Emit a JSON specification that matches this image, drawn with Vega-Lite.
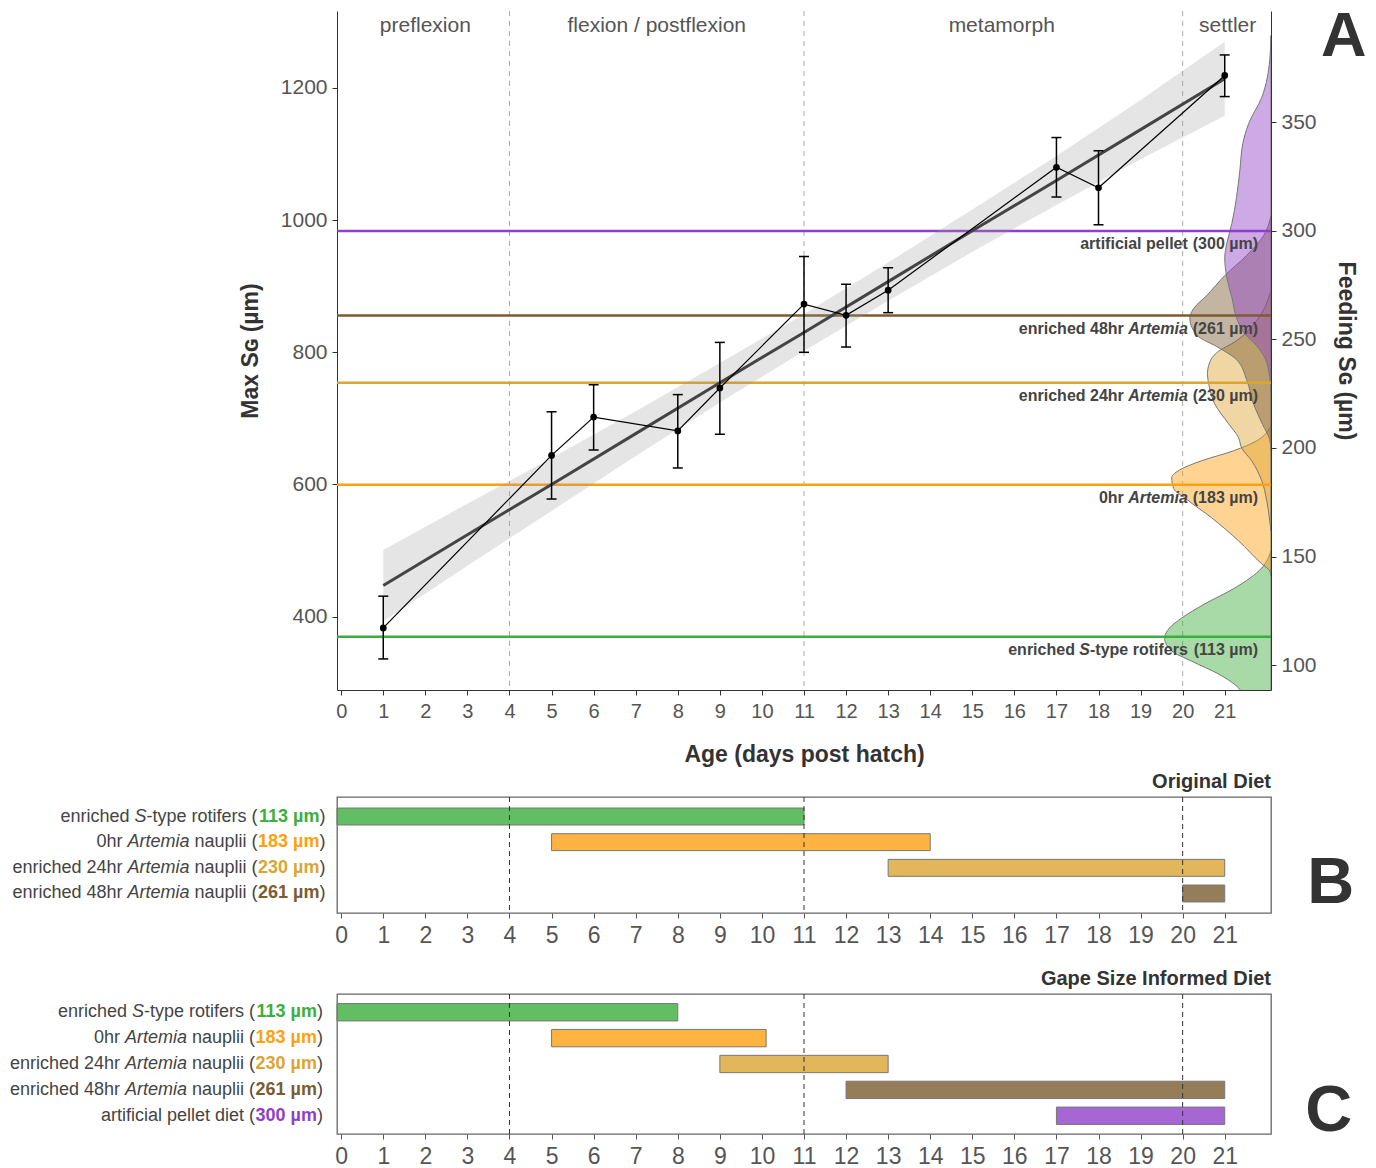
{
 "$schema": "https://vega.github.io/schema/vega-lite/v6.json",
 "padding": {"left": 9, "top": 6, "right": 0, "bottom": 0},
 "background": "white",
 "config": {
  "font": "Liberation Sans",
  "view": {"stroke": null},
  "axis": {"grid": false, "labelColor": "#555555", "titleColor": "#333333", "titleFontWeight": "bold", "domainColor": "#333333", "tickColor": "#333333"}
 },
 "datasets": {
  "pts": [
   {"day":1,"val":383,"lo":336,"hi":431},
   {"day":5,"val":644,"lo":578,"hi":710},
   {"day":6,"val":702,"lo":652,"hi":751},
   {"day":8,"val":681,"lo":625,"hi":736},
   {"day":9,"val":746,"lo":676,"hi":815},
   {"day":11,"val":873,"lo":800,"hi":945},
   {"day":12,"val":856,"lo":808,"hi":903},
   {"day":13,"val":894,"lo":860,"hi":928},
   {"day":17,"val":1080,"lo":1035,"hi":1125},
   {"day":18,"val":1049,"lo":993,"hi":1105},
   {"day":21,"val":1219,"lo":1187,"hi":1250}
  ],
  "fit": [
   {"day":1,"c":447,"lo":393,"hi":501},
   {"day":3,"c":524,"lo":477,"hi":571},
   {"day":5,"c":600,"lo":560,"hi":640},
   {"day":7,"c":677,"lo":643,"hi":711},
   {"day":9,"c":754,"lo":724,"hi":784},
   {"day":11,"c":830,"lo":802,"hi":858},
   {"day":13,"c":907,"lo":878,"hi":936},
   {"day":15,"c":984,"lo":952,"hi":1016},
   {"day":17,"c":1060,"lo":1023,"hi":1097},
   {"day":19,"c":1137,"lo":1092,"hi":1182},
   {"day":21,"c":1214,"lo":1158,"hi":1270}
  ],
  "dens": [
   {"diet":"rot","x":22.1,"v":152.6},{"diet":"rot","x":21.88,"v":144.7},{"diet":"rot","x":21.24,"v":135.5},{"diet":"rot","x":20.52,"v":128.1},{"diet":"rot","x":19.98,"v":121.7},{"diet":"rot","x":19.69,"v":117.1},{"diet":"rot","x":19.57,"v":112.5},{"diet":"rot","x":19.74,"v":106.5},{"diet":"rot","x":20.21,"v":101.8},{"diet":"rot","x":20.86,"v":95.8},{"diet":"rot","x":21.33,"v":89.4},{"diet":"rot","x":21.45,"v":86},
   {"diet":"a0","x":22.1,"v":210.2},{"diet":"a0","x":21.76,"v":203.3},{"diet":"a0","x":21.21,"v":198.7},{"diet":"a0","x":20.45,"v":194.1},{"diet":"a0","x":19.98,"v":190.4},{"diet":"a0","x":19.74,"v":186.3},{"diet":"a0","x":19.79,"v":181.2},{"diet":"a0","x":20.05,"v":177.0},{"diet":"a0","x":20.69,"v":167.8},{"diet":"a0","x":21.33,"v":157.2},{"diet":"a0","x":21.88,"v":146.6},{"diet":"a0","x":22.07,"v":143.4},{"diet":"a0","x":22.1,"v":141.1},
   {"diet":"a24","x":22.1,"v":272.5},{"diet":"a24","x":21.76,"v":258.7},{"diet":"a24","x":21.28,"v":249.4},{"diet":"a24","x":20.81,"v":243.9},{"diet":"a24","x":20.64,"v":239.3},{"diet":"a24","x":20.59,"v":234.2},{"diet":"a24","x":20.64,"v":227.8},{"diet":"a24","x":20.76,"v":220.4},{"diet":"a24","x":21.09,"v":211.2},{"diet":"a24","x":21.33,"v":204.7},{"diet":"a24","x":21.4,"v":200.1},{"diet":"a24","x":21.64,"v":194.1},{"diet":"a24","x":21.88,"v":184.9},{"diet":"a24","x":22.0,"v":175.6},{"diet":"a24","x":22.07,"v":166.4},{"diet":"a24","x":22.1,"v":161.8},
   {"diet":"a48","x":22.1,"v":307},{"diet":"a48","x":21.93,"v":298},{"diet":"a48","x":21.52,"v":288.7},{"diet":"a48","x":21.0,"v":279.4},{"diet":"a48","x":20.57,"v":270.2},{"diet":"a48","x":20.26,"v":264.2},{"diet":"a48","x":20.17,"v":259.6},{"diet":"a48","x":20.38,"v":251.3},{"diet":"a48","x":20.81,"v":246.7},{"diet":"a48","x":21.28,"v":240.7},{"diet":"a48","x":21.52,"v":231.5},{"diet":"a48","x":21.69,"v":220},{"diet":"a48","x":21.9,"v":210.8},{"diet":"a48","x":22.07,"v":203.8},{"diet":"a48","x":22.1,"v":199},
   {"diet":"pel","x":22.1,"v":390},{"diet":"pel","x":22.07,"v":378.6},{"diet":"pel","x":21.88,"v":361.5},{"diet":"pel","x":21.57,"v":349.5},{"diet":"pel","x":21.43,"v":340.3},{"diet":"pel","x":21.36,"v":327.9},{"diet":"pel","x":21.28,"v":315.4},{"diet":"pel","x":21.17,"v":303.4},{"diet":"pel","x":21.05,"v":294.2},{"diet":"pel","x":21.0,"v":287.7},{"diet":"pel","x":21.05,"v":278.5},{"diet":"pel","x":21.17,"v":269.3},{"diet":"pel","x":21.28,"v":260.1},{"diet":"pel","x":21.47,"v":252.7},{"diet":"pel","x":21.76,"v":247.1},{"diet":"pel","x":21.95,"v":241.6},{"diet":"pel","x":22.07,"v":232.4},{"diet":"pel","x":22.1,"v":226.4}
  ],
  "lines": [
   {"diet":"pel","v":300,"num":"(300 µm)","mid":"artificial pellet","kind":"pel"},
   {"diet":"a48","v":261,"num":"(261 µm)","mid":"Artemia","pre":"enriched 48hr","kind":"art"},
   {"diet":"a24","v":230,"num":"(230 µm)","mid":"Artemia","pre":"enriched 24hr","kind":"art"},
   {"diet":"a0","v":183,"num":"(183 µm)","mid":"Artemia","pre":"0hr","kind":"art"},
   {"diet":"rot","v":113,"num":"(113 µm)","mid":"-type rotifers","ital":"S","pre":"enriched","kind":"rot"}
  ],
  "stages": [
   {"stage":"preflexion","day":2},
   {"stage":"flexion / postflexion","day":7.5},
   {"stage":"metamorph","day":15.7},
   {"stage":"settler","day":21.07}
  ],
  "bounds": [{"day":4},{"day":11},{"day":20}],
  "orig": [
   {"item":"rot","start":-0.1,"end":11,"num":"113 µm","suf":"-type rotifers (","ital":"S","pre":"enriched","kind":"rot"},
   {"item":"a0","start":5,"end":14,"num":"183 µm","suf":"nauplii (","ital":"Artemia","pre":"0hr","kind":"art"},
   {"item":"a24","start":13,"end":21,"num":"230 µm","suf":"nauplii (","ital":"Artemia","pre":"enriched 24hr","kind":"art"},
   {"item":"a48","start":20,"end":21,"num":"261 µm","suf":"nauplii (","ital":"Artemia","pre":"enriched 48hr","kind":"art"}
  ],
  "gape": [
   {"item":"rot","start":-0.1,"end":8,"num":"113 µm","suf":"-type rotifers (","ital":"S","pre":"enriched","kind":"rot"},
   {"item":"a0","start":5,"end":10.1,"num":"183 µm","suf":"nauplii (","ital":"Artemia","pre":"0hr","kind":"art"},
   {"item":"a24","start":9,"end":13,"num":"230 µm","suf":"nauplii (","ital":"Artemia","pre":"enriched 24hr","kind":"art"},
   {"item":"a48","start":12,"end":21,"num":"261 µm","suf":"nauplii (","ital":"Artemia","pre":"enriched 48hr","kind":"art"},
   {"item":"pel","start":17,"end":21,"num":"300 µm","suf":"artificial pellet diet (","kind":"pel"}
  ]
 },
 "spacing": 4,
 "vconcat": [
  {
   "width": 934,
   "height": 679,
   "layer": [
    {
     "layer": [
      {
       "data": {"name": "bounds"},
       "mark": {"type": "rule", "color": "#aaaaaa", "strokeDash": [5, 5], "strokeWidth": 1},
       "encoding": {
        "x": {"field": "day", "type": "quantitative", "scale": {"domain": [-0.1, 22.1], "nice": false, "zero": false}, "axis": {"values": [0,1,2,3,4,5,6,7,8,9,10,11,12,13,14,15,16,17,18,19,20,21], "title": "Age (days post hatch)", "labelFontSize": 20, "titleFontSize": 23, "tickSize": 5, "labelPadding": 6, "titlePadding": 22, "labelFlush": false, "labelOverlap": false}}
       }
      },
      {
       "data": {"name": "dens"},
       "mark": {"type": "area", "orient": "horizontal", "interpolate": "monotone", "fillOpacity": 0.45, "stroke": "#777777", "strokeWidth": 1, "clip": true},
       "encoding": {
        "y": {"field": "v", "type": "quantitative", "scale": {"domain": [88.5, 401.3], "nice": false, "zero": false}, "axis": {"orient": "right", "values": [100,150,200,250,300,350], "title": "Feeding Sɢ (µm)", "labelFontSize": 21, "titleFontSize": 23, "tickSize": 5, "labelPadding": 5, "titlePadding": 17}},
        "x": {"field": "x", "type": "quantitative", "stack": null, "scale": {"domain": [-0.1, 22.1], "nice": false, "zero": false}, "axis": {"values": [0,1,2,3,4,5,6,7,8,9,10,11,12,13,14,15,16,17,18,19,20,21], "title": "Age (days post hatch)", "labelFontSize": 20, "titleFontSize": 23, "tickSize": 5, "labelPadding": 6, "titlePadding": 22, "labelFlush": false, "labelOverlap": false}},
        "x2": {"datum": 22.1},
        "color": {"field": "diet", "type": "nominal", "scale": {"domain": ["rot","a0","a24","a48","pel"], "range": ["#3cae3c","#ffa010","#dba532","#7a5c30","#9040c8"]}, "legend": null}
       }
      },
      {
       "data": {"name": "lines"},
       "mark": {"type": "rule", "strokeWidth": 2.5},
       "encoding": {
        "y": {"field": "v", "type": "quantitative", "scale": {"domain": [88.5, 401.3], "nice": false, "zero": false}, "axis": {"orient": "right", "values": [100,150,200,250,300,350], "title": "Feeding Sɢ (µm)", "labelFontSize": 21, "titleFontSize": 23, "tickSize": 5, "labelPadding": 5, "titlePadding": 17}},
        "color": {"field": "diet", "type": "nominal", "scale": {"domain": ["rot","a0","a24","a48","pel"], "range": ["#3cae3c","#ffa010","#dba532","#7a5c30","#9040c8"]}, "legend": null}
       }
      },
      {
       "data": {"name": "lines"},
       "mark": {"type": "text", "align": "right", "baseline": "middle", "dx": -13, "dy": 13, "fontSize": 16, "fontWeight": "bold", "color": "#444444"},
       "encoding": {
        "x": {"datum": 22.1, "type": "quantitative"},
        "y": {"field": "v", "type": "quantitative"},
        "text": {"field": "num"}
       }
      },
      {
       "data": {"name": "lines"},
       "transform": [{"filter": "datum.kind == 'art'"}],
       "mark": {"type": "text", "align": "right", "baseline": "middle", "dx": -83.2, "dy": 13, "fontSize": 16, "fontWeight": "bold", "fontStyle": "italic", "color": "#444444"},
       "encoding": {
        "x": {"datum": 22.1, "type": "quantitative"},
        "y": {"field": "v", "type": "quantitative"},
        "text": {"field": "mid"}
       }
      },
      {
       "data": {"name": "lines"},
       "transform": [{"filter": "datum.kind != 'art'"}],
       "mark": {"type": "text", "align": "right", "baseline": "middle", "dx": -83.2, "dy": 13, "fontSize": 16, "fontWeight": "bold", "color": "#444444"},
       "encoding": {
        "x": {"datum": 22.1, "type": "quantitative"},
        "y": {"field": "v", "type": "quantitative"},
        "text": {"field": "mid"}
       }
      },
      {
       "data": {"name": "lines"},
       "transform": [{"filter": "datum.kind == 'art'"}],
       "mark": {"type": "text", "align": "right", "baseline": "middle", "dx": -147.2, "dy": 13, "fontSize": 16, "fontWeight": "bold", "color": "#444444"},
       "encoding": {
        "x": {"datum": 22.1, "type": "quantitative"},
        "y": {"field": "v", "type": "quantitative"},
        "text": {"field": "pre"}
       }
      },
      {
       "data": {"name": "lines"},
       "transform": [{"filter": "datum.kind == 'rot'"}],
       "mark": {"type": "text", "align": "right", "baseline": "middle", "dx": -181, "dy": 13, "fontSize": 16, "fontWeight": "bold", "fontStyle": "italic", "color": "#444444"},
       "encoding": {
        "x": {"datum": 22.1, "type": "quantitative"},
        "y": {"field": "v", "type": "quantitative"},
        "text": {"field": "ital"}
       }
      },
      {
       "data": {"name": "lines"},
       "transform": [{"filter": "datum.kind == 'rot'"}],
       "mark": {"type": "text", "align": "right", "baseline": "middle", "dx": -196.1, "dy": 13, "fontSize": 16, "fontWeight": "bold", "color": "#444444"},
       "encoding": {
        "x": {"datum": 22.1, "type": "quantitative"},
        "y": {"field": "v", "type": "quantitative"},
        "text": {"field": "pre"}
       }
      }
     ]
    },
    {
     "layer": [
      {
       "data": {"name": "fit"},
       "mark": {"type": "area", "color": "#999999", "opacity": 0.25},
       "encoding": {
        "x": {"field": "day", "type": "quantitative", "scale": {"domain": [-0.1, 22.1], "nice": false, "zero": false}, "axis": {"values": [0,1,2,3,4,5,6,7,8,9,10,11,12,13,14,15,16,17,18,19,20,21], "title": "Age (days post hatch)", "labelFontSize": 20, "titleFontSize": 23, "tickSize": 5, "labelPadding": 6, "titlePadding": 22, "labelFlush": false, "labelOverlap": false}},
        "y": {"field": "lo", "type": "quantitative", "stack": null, "scale": {"domain": [289, 1316.5], "nice": false, "zero": false}, "axis": {"orient": "left", "values": [400,600,800,1000,1200], "format": "d", "title": "Max Sɢ (µm)", "labelFontSize": 21, "titleFontSize": 23, "tickSize": 5, "labelPadding": 5, "titlePadding": 18}},
        "y2": {"field": "hi"}
       }
      },
      {
       "data": {"name": "fit"},
       "mark": {"type": "line", "color": "#444444", "strokeWidth": 3},
       "encoding": {
        "x": {"field": "day", "type": "quantitative"},
        "y": {"field": "c", "type": "quantitative"}
       }
      },
      {
       "data": {"name": "pts"},
       "mark": {"type": "line", "color": "#000000", "strokeWidth": 1.2},
       "encoding": {
        "x": {"field": "day", "type": "quantitative"},
        "y": {"field": "val", "type": "quantitative"}
       }
      },
      {
       "data": {"name": "pts"},
       "mark": {"type": "rule", "color": "#000000", "strokeWidth": 1.5},
       "encoding": {
        "x": {"field": "day", "type": "quantitative"},
        "y": {"field": "lo", "type": "quantitative"},
        "y2": {"field": "hi"}
       }
      },
      {
       "data": {"name": "pts"},
       "mark": {"type": "tick", "orient": "horizontal", "size": 10, "thickness": 1.5, "color": "#000000", "opacity": 1},
       "encoding": {
        "x": {"field": "day", "type": "quantitative"},
        "y": {"field": "lo", "type": "quantitative"}
       }
      },
      {
       "data": {"name": "pts"},
       "mark": {"type": "tick", "orient": "horizontal", "size": 10, "thickness": 1.5, "color": "#000000", "opacity": 1},
       "encoding": {
        "x": {"field": "day", "type": "quantitative"},
        "y": {"field": "hi", "type": "quantitative"}
       }
      },
      {
       "data": {"name": "pts"},
       "mark": {"type": "circle", "size": 45, "color": "#000000", "opacity": 1},
       "encoding": {
        "x": {"field": "day", "type": "quantitative"},
        "y": {"field": "val", "type": "quantitative"}
       }
      },
      {
       "data": {"name": "stages"},
       "mark": {"type": "text", "fontSize": 21, "color": "#555555", "baseline": "middle"},
       "encoding": {
        "x": {"field": "day", "type": "quantitative"},
        "y": {"datum": 1293.8, "type": "quantitative"},
        "text": {"field": "stage"}
       }
      },
      {
       "data": {"values": [{"letter": "A"}]},
       "mark": {"type": "text", "fontSize": 63, "fontWeight": "bold", "color": "#333333", "baseline": "middle"},
       "encoding": {
        "x": {"datum": 23.83, "type": "quantitative"},
        "y": {"datum": 1277, "type": "quantitative"},
        "text": {"field": "letter"}
       }
      }
     ]
    }
   ],
   "resolve": {"scale": {"y": "independent"}, "axis": {"y": "independent"}}
  },
  {
   "spacing": 19,
   "vconcat": [
    {
     "width": 934,
     "height": 116,
     "view": {"stroke": "#666666", "strokeWidth": 1.3},
     "title": {"text": "Original Diet", "anchor": "end", "frame": "group", "fontSize": 20, "fontWeight": "bold", "color": "#333333", "offset": 5},
     "data": {"name": "orig"},
     "encoding": {
      "y": {"field": "item", "type": "nominal", "sort": null, "scale": {"domain": ["rot","a0","a24","a48"], "paddingInner": 0.34, "paddingOuter": 0.43}, "axis": null}
     },
     "layer": [
      {
       "mark": {"type": "bar", "stroke": "#777777", "strokeWidth": 1, "fillOpacity": 0.8},
       "encoding": {
        "x": {"field": "start", "type": "quantitative", "scale": {"domain": [-0.1, 22.1], "nice": false, "zero": false}, "axis": {"values": [0,1,2,3,4,5,6,7,8,9,10,11,12,13,14,15,16,17,18,19,20,21], "title": null, "labelFontSize": 23, "tickSize": 5, "labelPadding": 6, "labelFlush": false, "labelOverlap": false, "domain": false, "tickColor": "#555555"}},
        "x2": {"field": "end"},
        "color": {"field": "item", "type": "nominal", "scale": {"domain": ["rot","a0","a24","a48","pel"], "range": ["#3cae3c","#ffa010","#dba532","#7a5c30","#9040c8"]}, "legend": null}
       }
      },
      {
       "data": {"name": "bounds"},
       "mark": {"type": "rule", "color": "#333333", "strokeDash": [5, 4], "strokeWidth": 1},
       "encoding": {"x": {"field": "day", "type": "quantitative"}, "y": null}
      },
      {
       "mark": {"type": "text", "align": "right", "baseline": "middle", "dx": -11.5, "fontSize": 18, "color": "#444444"},
       "encoding": {"x": {"datum": -0.1, "type": "quantitative"}, "text": {"value": ")"}}
      },
      {
       "mark": {"type": "text", "align": "right", "baseline": "middle", "dx": -17.5, "fontSize": 18, "fontWeight": "bold"},
       "encoding": {"x": {"datum": -0.1, "type": "quantitative"}, "text": {"field": "num"}, "color": {"field": "item", "type": "nominal", "scale": {"domain": ["rot","a0","a24","a48","pel"], "range": ["#3cae3c","#ffa010","#dba532","#7a5c30","#9040c8"]}, "legend": null}}
      },
      {
       "mark": {"type": "text", "align": "right", "baseline": "middle", "dx": -79.5, "fontSize": 18, "color": "#444444"},
       "encoding": {"x": {"datum": -0.1, "type": "quantitative"}, "text": {"field": "suf"}}
      },
      {
       "transform": [{"filter": "datum.kind == 'art'"}],
       "mark": {"type": "text", "align": "right", "baseline": "middle", "dx": -147.5, "fontSize": 18, "fontStyle": "italic", "color": "#444444"},
       "encoding": {"x": {"datum": -0.1, "type": "quantitative"}, "text": {"field": "ital"}}
      },
      {
       "transform": [{"filter": "datum.kind == 'art'"}],
       "mark": {"type": "text", "align": "right", "baseline": "middle", "dx": -214.5, "fontSize": 18, "color": "#444444"},
       "encoding": {"x": {"datum": -0.1, "type": "quantitative"}, "text": {"field": "pre"}}
      },
      {
       "transform": [{"filter": "datum.kind == 'rot'"}],
       "mark": {"type": "text", "align": "right", "baseline": "middle", "dx": -190.5, "fontSize": 18, "fontStyle": "italic", "color": "#444444"},
       "encoding": {"x": {"datum": -0.1, "type": "quantitative"}, "text": {"field": "ital"}}
      },
      {
       "transform": [{"filter": "datum.kind == 'rot'"}],
       "mark": {"type": "text", "align": "right", "baseline": "middle", "dx": -207.5, "fontSize": 18, "color": "#444444"},
       "encoding": {"x": {"datum": -0.1, "type": "quantitative"}, "text": {"field": "pre"}}
      },
      {
       "transform": [{"filter": "datum.item == 'a48'"}],
       "mark": {"type": "text", "align": "center", "baseline": "middle", "dy": -10, "fontSize": 65, "fontWeight": "bold", "color": "#333333"},
       "encoding": {"x": {"datum": 23.52, "type": "quantitative"}, "text": {"value": "B"}}
      }
     ]
    },
    {
     "width": 934,
     "height": 140,
     "view": {"stroke": "#666666", "strokeWidth": 1.3},
     "title": {"text": "Gape Size Informed Diet", "anchor": "end", "frame": "group", "fontSize": 20, "fontWeight": "bold", "color": "#333333", "offset": 5},
     "data": {"name": "gape"},
     "encoding": {
      "y": {"field": "item", "type": "nominal", "sort": null, "scale": {"domain": ["rot","a0","a24","a48","pel"], "paddingInner": 0.33, "paddingOuter": 0.37}, "axis": null}
     },
     "layer": [
      {
       "mark": {"type": "bar", "stroke": "#777777", "strokeWidth": 1, "fillOpacity": 0.8},
       "encoding": {
        "x": {"field": "start", "type": "quantitative", "scale": {"domain": [-0.1, 22.1], "nice": false, "zero": false}, "axis": {"values": [0,1,2,3,4,5,6,7,8,9,10,11,12,13,14,15,16,17,18,19,20,21], "title": null, "labelFontSize": 23, "tickSize": 5, "labelPadding": 6, "labelFlush": false, "labelOverlap": false, "domain": false, "tickColor": "#555555"}},
        "x2": {"field": "end"},
        "color": {"field": "item", "type": "nominal", "scale": {"domain": ["rot","a0","a24","a48","pel"], "range": ["#3cae3c","#ffa010","#dba532","#7a5c30","#9040c8"]}, "legend": null}
       }
      },
      {
       "data": {"name": "bounds"},
       "mark": {"type": "rule", "color": "#333333", "strokeDash": [5, 4], "strokeWidth": 1},
       "encoding": {"x": {"field": "day", "type": "quantitative"}, "y": null}
      },
      {
       "mark": {"type": "text", "align": "right", "baseline": "middle", "dx": -14, "fontSize": 18, "color": "#444444"},
       "encoding": {"x": {"datum": -0.1, "type": "quantitative"}, "text": {"value": ")"}}
      },
      {
       "mark": {"type": "text", "align": "right", "baseline": "middle", "dx": -20, "fontSize": 18, "fontWeight": "bold"},
       "encoding": {"x": {"datum": -0.1, "type": "quantitative"}, "text": {"field": "num"}, "color": {"field": "item", "type": "nominal", "scale": {"domain": ["rot","a0","a24","a48","pel"], "range": ["#3cae3c","#ffa010","#dba532","#7a5c30","#9040c8"]}, "legend": null}}
      },
      {
       "mark": {"type": "text", "align": "right", "baseline": "middle", "dx": -82, "fontSize": 18, "color": "#444444"},
       "encoding": {"x": {"datum": -0.1, "type": "quantitative"}, "text": {"field": "suf"}}
      },
      {
       "transform": [{"filter": "datum.kind == 'art'"}],
       "mark": {"type": "text", "align": "right", "baseline": "middle", "dx": -150, "fontSize": 18, "fontStyle": "italic", "color": "#444444"},
       "encoding": {"x": {"datum": -0.1, "type": "quantitative"}, "text": {"field": "ital"}}
      },
      {
       "transform": [{"filter": "datum.kind == 'art'"}],
       "mark": {"type": "text", "align": "right", "baseline": "middle", "dx": -217, "fontSize": 18, "color": "#444444"},
       "encoding": {"x": {"datum": -0.1, "type": "quantitative"}, "text": {"field": "pre"}}
      },
      {
       "transform": [{"filter": "datum.kind == 'rot'"}],
       "mark": {"type": "text", "align": "right", "baseline": "middle", "dx": -193, "fontSize": 18, "fontStyle": "italic", "color": "#444444"},
       "encoding": {"x": {"datum": -0.1, "type": "quantitative"}, "text": {"field": "ital"}}
      },
      {
       "transform": [{"filter": "datum.kind == 'rot'"}],
       "mark": {"type": "text", "align": "right", "baseline": "middle", "dx": -210, "fontSize": 18, "color": "#444444"},
       "encoding": {"x": {"datum": -0.1, "type": "quantitative"}, "text": {"field": "pre"}}
      },
      {
       "transform": [{"filter": "datum.item == 'pel'"}],
       "mark": {"type": "text", "align": "center", "baseline": "middle", "dy": -5, "fontSize": 65, "fontWeight": "bold", "color": "#333333"},
       "encoding": {"x": {"datum": 23.47, "type": "quantitative"}, "text": {"value": "C"}}
      }
     ]
    }
   ]
  }
 ]
}
